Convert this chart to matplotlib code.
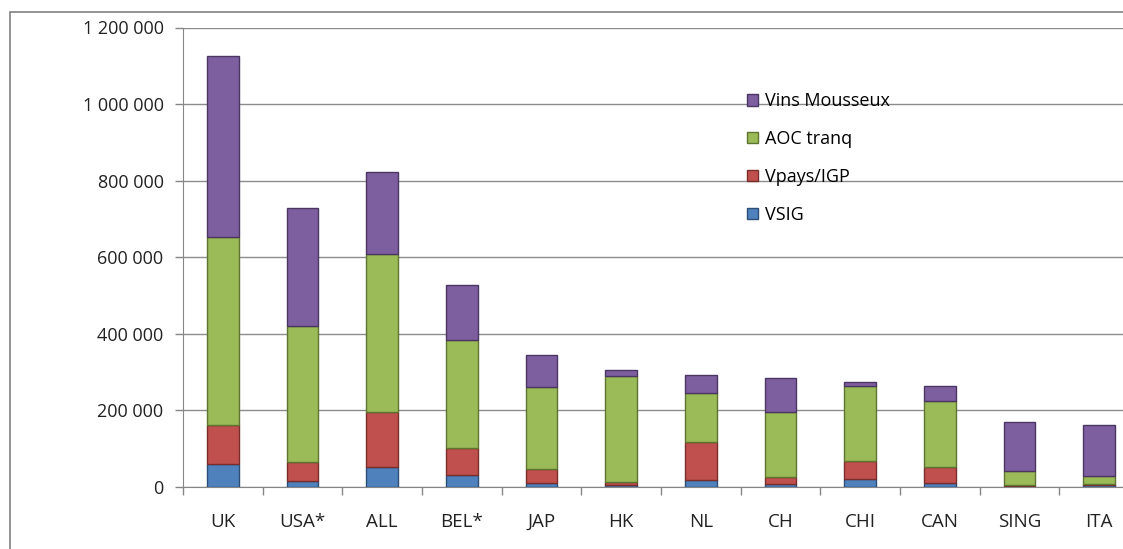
import matplotlib
matplotlib.use("Agg")
import matplotlib.pyplot as plt
from matplotlib.patches import Rectangle
from matplotlib.ticker import FuncFormatter

categories = ["UK", "USA*", "ALL", "BEL*", "JAP", "HK", "NL", "CH", "CHI", "CAN", "SING", "ITA"]
vsig      = [58000, 15000, 51000, 30000, 10000, 5000, 18000, 8000, 20000, 9000, 1000, 3000]
vpays_igp = [103000, 50000, 144000, 70000, 35000, 8000, 98000, 16000, 48000, 43000, 4000, 5000]
aoc_tranq = [491000, 356000, 412000, 282000, 215000, 275000, 129000, 170000, 194000, 173000, 36000, 19000]
vins_mous = [473000, 308000, 214000, 146000, 84000, 18000, 46000, 90000, 11000, 39000, 129000, 134000]

series = [
    ("VSIG", vsig, "#4F81BD", "#2C4D75"),
    ("Vpays/IGP", vpays_igp, "#C0504D", "#7A2E2C"),
    ("AOC tranq", aoc_tranq, "#9BBB59", "#5E7530"),
    ("Vins Mousseux", vins_mous, "#7D5FA0", "#4A3661"),
]

plt.rcParams['font.family'] = ['Open Sans', 'DejaVu Sans']

W, H = 1123, 549
fig = plt.figure(figsize=(W / 100, H / 100), dpi=100)

# outer chart frame
fig.patches.append(Rectangle((10 / W, -0.1), 1.2, (H - 12) / H + 0.1, transform=fig.transFigure,
                             fill=False, edgecolor="#808080", linewidth=1.2))

left, right, top, bottom = 183, 1139, 27.5, 486.6
ax = fig.add_axes([left / W, 1 - bottom / H, (right - left) / W, (bottom - top) / H])

x = list(range(len(categories)))
base = [0] * len(categories)
handles = []
for name, vals, color, edge in series:
    b = ax.bar(x, vals, bottom=base, width=0.4, color=color, edgecolor=edge, linewidth=1.0,
               label=name, zorder=3)
    handles.append(b)
    base = [b0 + v for b0, v in zip(base, vals)]

ax.set_xlim(-0.5, len(categories) - 0.5)
ax.set_ylim(0, 1200000)
ax.set_yticks(range(0, 1200001, 200000))
ax.yaxis.set_major_formatter(FuncFormatter(lambda v, p: f"{int(v):,}".replace(",", " ")))
ax.set_xticks(x)
ax.set_xticklabels(categories)
ax.set_xticks([i + 0.5 for i in range(-1, len(categories))], minor=True)
ax.tick_params(axis='x', which='major', length=0, pad=19, labelsize=13.5, colors="#222222")
ax.tick_params(axis='x', which='minor', length=6, color="#868686", width=1)
ax.tick_params(axis='y', length=6, color="#868686", width=1, labelsize=13, pad=8,
               labelcolor="#222222")

ax.grid(axis='y', color="#8C8C8C", linewidth=1.0, zorder=0)
for s in ["top", "right"]:
    ax.spines[s].set_visible(False)
ax.spines["left"].set_color("#868686")
ax.spines["bottom"].set_color("#868686")
ax.set_axisbelow(True)

leg = fig.legend(handles[::-1], [s[0] for s in series][::-1], loc="upper left",
                 bbox_to_anchor=(740 / W, 1 - 85 / H), frameon=False, fontsize=13,
                 handlelength=0.6, handleheight=0.6, handletextpad=0.4, labelspacing=1.1,
                 borderaxespad=0)

fig.savefig("out.png", dpi=100)
